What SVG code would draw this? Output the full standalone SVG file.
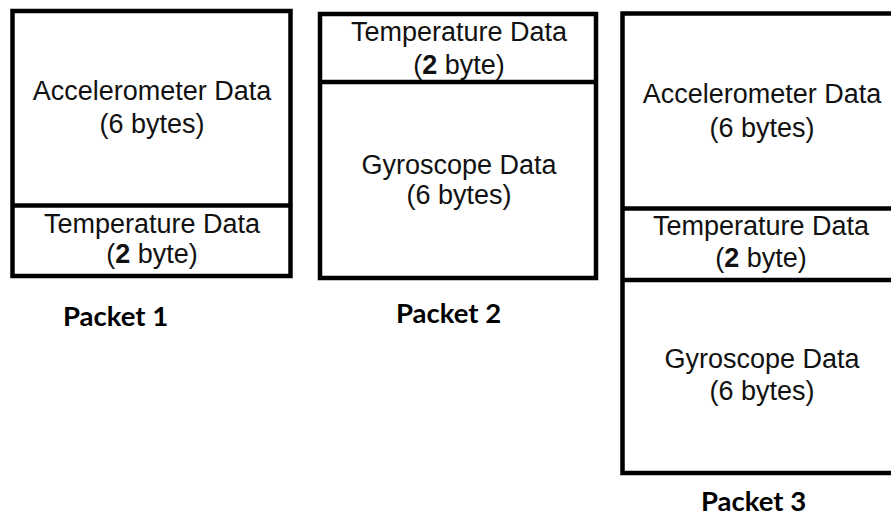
<svg xmlns="http://www.w3.org/2000/svg" width="891" height="516" viewBox="0 0 891 516">
<style>
.box{fill:none;stroke:#000;stroke-width:4.5}
.t{font-family:"Liberation Sans",Arial,sans-serif;font-size:27px;fill:#111;text-anchor:middle}
.b{font-weight:bold}
.lbl{font-family:Lato,"Open Sans",sans-serif;font-weight:bold;font-size:27.5px;fill:#000}
</style>
<rect width="891" height="516" fill="#fff"/>
<g id="packet1">
  <rect class="box" x="12.5" y="11" width="278" height="265"/>
  <line class="box" x1="12.5" y1="205.5" x2="290.5" y2="205.5"/>
  <text class="t" x="152" y="100">Accelerometer Data</text>
  <text class="t" x="152" y="133">(6 bytes)</text>
  <text class="t" x="152" y="233">Temperature Data</text>
  <text class="t" x="152" y="263">(<tspan class="b">2</tspan> byte)</text>
  <text class="lbl" x="63" y="326">Packet 1</text>
</g>
<g id="packet2">
  <rect class="box" x="320" y="14" width="276" height="264"/>
  <line class="box" x1="320" y1="82" x2="596" y2="82"/>
  <text class="t" x="459" y="41">Temperature Data</text>
  <text class="t" x="459" y="74">(<tspan class="b">2</tspan> byte)</text>
  <text class="t" x="459" y="174">Gyroscope Data</text>
  <text class="t" x="459" y="204">(6 bytes)</text>
  <text class="lbl" x="396" y="323">Packet 2</text>
</g>
<g id="packet3">
  <path class="box" d="M891 13.5H622.5V473H891"/>
  <line class="box" x1="622.5" y1="208.5" x2="891" y2="208.5"/>
  <line class="box" x1="622.5" y1="280" x2="891" y2="280"/>
  <text class="t" x="762" y="103">Accelerometer Data</text>
  <text class="t" x="762" y="137">(6 bytes)</text>
  <text class="t" x="761" y="235">Temperature Data</text>
  <text class="t" x="761" y="267">(<tspan class="b">2</tspan> byte)</text>
  <text class="t" x="762" y="368">Gyroscope Data</text>
  <text class="t" x="762" y="400">(6 bytes)</text>
  <text class="lbl" x="701" y="511">Packet 3</text>
</g>
<g id="connectors"/>
</svg>
